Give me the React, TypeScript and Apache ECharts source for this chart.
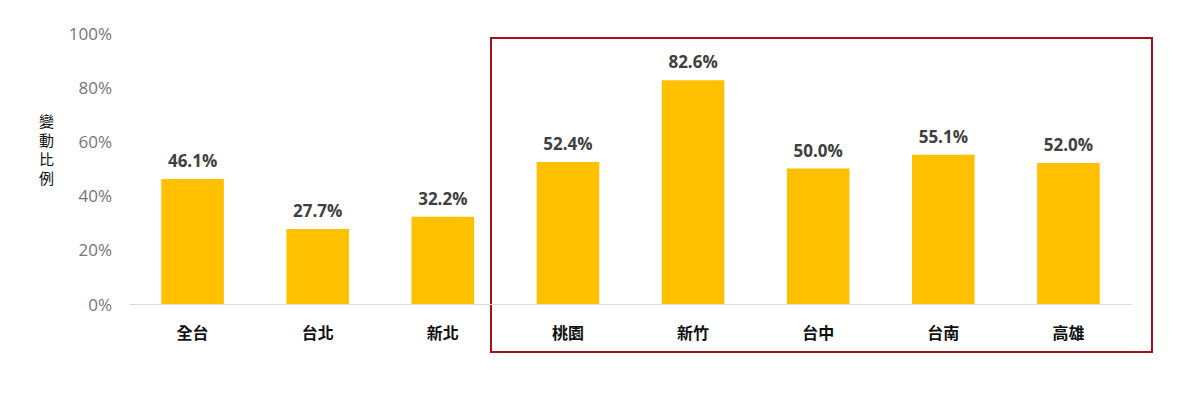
import React, { useEffect, useRef } from "react";
import * as echarts from "echarts";

const categories = ["全台", "台北", "新北", "桃園", "新竹", "台中", "台南", "高雄"];
const values = [46.1, 27.7, 32.2, 52.4, 82.6, 50.0, 55.1, 52.0];
const yAxisName = "變動比例";

export default function App() {
  const ref = useRef<HTMLDivElement>(null);
  useEffect(() => {
    if (!ref.current) return;
    const chart = echarts.init(ref.current, undefined, { renderer: "svg" });
    chart.setOption({
      animation: false,
      grid: { left: 122, right: 61, top: 25, bottom: 107 },
      xAxis: {
        type: "category",
        data: categories,
        axisLine: { lineStyle: { color: "#d9d9d9", width: 1 } },
        axisTick: { show: false },
        axisLabel: {
          color: "#111",
          fontWeight: "bold",
          fontSize: 16,
          margin: 20,
          fontFamily: "Noto Sans CJK TC",
        },
      },
      yAxis: {
        type: "value",
        min: 0,
        max: 100,
        interval: 20,
        splitLine: { show: false },
        axisLine: { show: false },
        axisTick: { show: false },
        axisLabel: {
          formatter: "{value}%",
          color: "#767676",
          fontSize: 17,
          margin: 18,
          fontFamily: "Open Sans",
        },
      },
      graphic: [
        {
          type: "text",
          left: 31,
          top: 103,
          style: {
            text: yAxisName.split("").join("\n"),
            fontSize: 15,
            lineHeight: 19,
            fill: "#111",
            fontFamily: "Noto Sans CJK TC",
          },
        },
        {
          type: "rect",
          shape: { x: 483, y: 30, width: 661, height: 314 },
          style: { fill: "none", stroke: "#a3121c", lineWidth: 2 },
        },
      ],
      series: [
        {
          type: "bar",
          data: values,
          barWidth: "50%",
          itemStyle: { color: "#FFC000" },
          label: {
            show: true,
            position: "top",
            distance: 10,
            formatter: (p: any) => p.value.toFixed(1) + "%",
            color: "#404040",
            fontWeight: "bold",
            fontSize: 17,
            fontFamily: "Open Sans",
          },
        },
      ],
    });
    return () => chart.dispose();
  }, []);
  return <div ref={ref} style={{ width: 1184, height: 403 }} />;
}
